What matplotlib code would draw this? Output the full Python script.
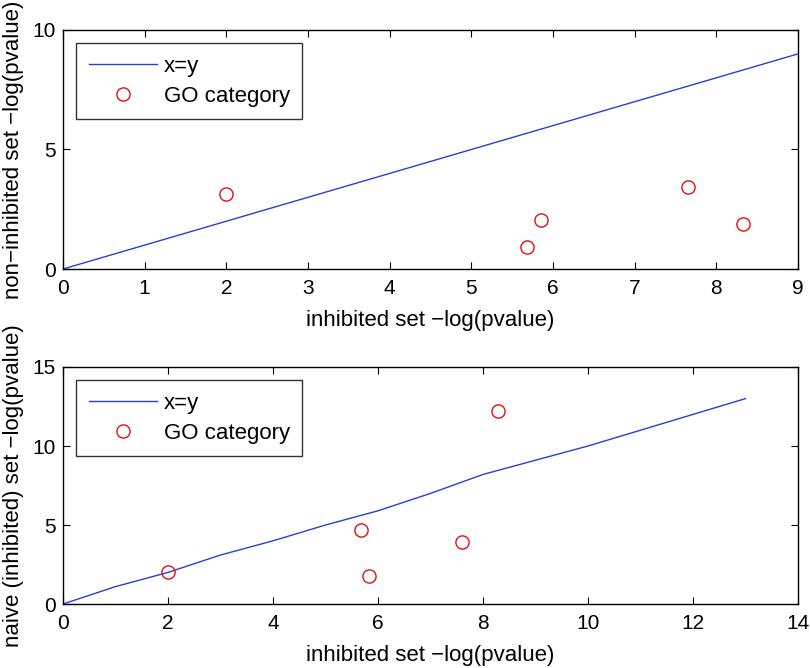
import matplotlib
matplotlib.use("Agg")
import matplotlib.pyplot as plt

plt.rcParams['font.family'] = ['Liberation Sans', 'DejaVu Sans']

# Top panel data
top_line_x = [0, 1, 2, 3, 4, 5, 6, 7, 8, 9]
top_line_y = [0, 1, 2, 3, 4, 5, 6, 7, 8, 9]
top_pts_x = [2.0, 5.68, 5.85, 7.65, 8.33]
top_pts_y = [3.15, 0.9, 2.05, 3.45, 1.9]

# Bottom panel data
bot_line_x = [0, 1, 2, 3, 4, 5, 6, 7, 8, 9, 10, 11, 12, 13]
bot_line_y = [0, 1.1, 2.0, 3.1, 4.0, 5.0, 5.9, 7.0, 8.2, 9.1, 10.0, 11.0, 12.0, 13.0]
bot_pts_x = [2.0, 5.68, 5.82, 7.6, 8.28]
bot_pts_y = [2.0, 4.7, 1.8, 3.9, 12.2]

xlabel = "inhibited set \u2212log(pvalue)"
ylabel_top = "non\u2212inhibited set \u2212log(pvalue)"
ylabel_bot = "naive (inhibited) set \u2212log(pvalue)"

fig = plt.figure(figsize=(8.1, 6.68), dpi=100)
ax1 = fig.add_axes([0.0778, 0.5973, 0.9074, 0.3578])
ax2 = fig.add_axes([0.0778, 0.0958, 0.9074, 0.3548])

line_color = '#2a3ed6'
pt_color = '#dd1111'

def style(ax, xlim, ylim, xticks, yticks, ylabel):
    ax.set_xlim(*xlim)
    ax.set_ylim(*ylim)
    ax.set_xticks(xticks)
    ax.set_yticks(yticks)
    ax.tick_params(axis='x', pad=7)
    ax.tick_params(axis='y', pad=5)
    ax.tick_params(direction='in', top=True, right=True, labelsize=15, length=5, width=0.8)
    for s in ax.spines.values():
        s.set_linewidth(1.0)
    ax.set_xlabel(xlabel, fontsize=16, labelpad=9)
    ax.set_ylabel(ylabel, fontsize=16, labelpad=6)

ax1.plot(top_line_x, top_line_y, color=line_color, lw=1.0, label='x=y')
ax1.plot(top_pts_x, top_pts_y, 'o', mfc='none', mec=pt_color, ms=9.5, mew=1.0, label='GO category')
style(ax1, (0, 9), (0, 10), range(0, 10), [0, 5, 10], ylabel_top)

ax2.plot(bot_line_x, bot_line_y, color=line_color, lw=1.0, label='x=y')
ax2.plot(bot_pts_x, bot_pts_y, 'o', mfc='none', mec=pt_color, ms=9.5, mew=1.0, label='GO category')
style(ax2, (0, 14), (0, 15), range(0, 15, 2), [0, 5, 10, 15], ylabel_bot)

for ax in (ax1, ax2):
    leg = ax.legend(loc='upper left', fontsize=16, frameon=True, fancybox=False,
                    edgecolor='black', borderpad=0.55, handlelength=3.1,
                    handletextpad=0.3, labelspacing=0.42, borderaxespad=0.6)
    leg.get_frame().set_linewidth(1.0)

fig.savefig('out.png', dpi=100)
